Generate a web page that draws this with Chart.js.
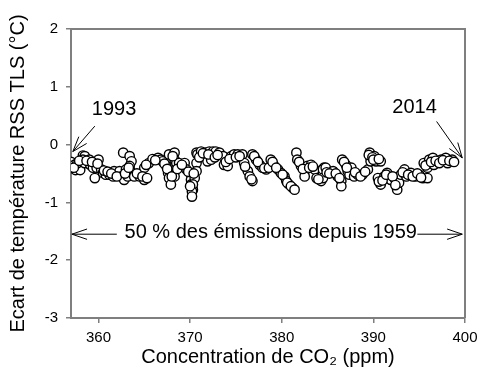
<!DOCTYPE html>
<html>
<head>
<meta charset="utf-8">
<script src="https://cdn.jsdelivr.net/npm/chart.js@4.4.0/dist/chart.umd.min.js"></script>
<style>
  html, body { margin: 0; padding: 0; background: #fff; }
  #wrap { width: 480px; height: 378px; }
</style>
</head>
<body>
<div id="wrap"><canvas id="graphe"></canvas></div>
<script>
// Concentration de CO2 (ppm) et écart de température RSS TLS (°C)
const co2 = [
  357.0, 357.4, 357.5, 358.0, 357.7, 358.3, 358.5, 358.3, 358.5, 359.0,
  359.1, 359.4, 359.6, 360.0, 359.8, 360.3, 360.5, 360.8, 361.2, 361.6,
  361.9, 361.7, 362.3, 362.5, 362.7, 362.8, 363.0, 363.4, 363.6, 363.4,
  363.5, 363.2, 363.9, 364.5, 365.0, 365.0, 365.5, 365.9, 366.5, 366.8,
  367.0, 367.4, 367.6, 367.7, 367.9, 367.7, 368.3, 368.3, 368.5, 368.3,
  368.8, 369.4, 369.6, 370.1, 370.1, 370.1, 370.3, 370.7,
  370.8, 371.2, 371.6, 371.7, 372.1, 372.5, 372.8, 373.2, 371.9, 372.3,
  370.7, 370.7, 370.5, 370.3, 370.2, 373.6, 373.7, 374.1, 374.5, 374.8,
  375.2, 375.7, 375.9, 376.3, 376.5, 376.8, 376.8, 377.2, 377.6, 377.9,
  378.3, 378.8, 379.2, 379.6, 379.9, 380.3, 380.5, 380.8, 381.2, 381.6,
  381.7, 382.1, 382.5, 382.5, 382.8, 383.2, 383.6, 383.8, 384.3, 384.5,
  384.6,
  384.5, 384.8, 384.5, 385.6, 386.1, 386.5, 386.5, 386.6, 387.0, 387.2,
  387.6, 387.4, 387.9, 388.3, 388.8, 389.4, 389.6, 389.7, 389.7, 390.1,
  390.3, 390.8, 390.5, 390.8, 391.2, 391.5, 391.9, 392.3, 392.6, 392.8,
  393.0, 393.4, 393.6, 394.1, 394.6, 395.0, 395.4, 395.9, 395.5, 395.9,
  396.1, 396.5, 396.6, 397.0, 397.4, 397.9, 398.1, 398.6,
  357.3, 357.9, 358.7, 359.3, 359.9, 360.6, 361.0, 361.4, 362.0, 362.9,
  363.3, 364.2, 364.8, 365.3, 365.2, 366.2, 367.2, 367.5, 368.0, 368.1,
  368.6, 369.1, 369.8, 370.0, 370.2, 370.4, 371.0, 371.4, 372.0, 372.7,
  373.0, 373.9, 374.3, 375.0, 375.4, 376.0, 376.7, 377.0, 377.4, 378.1,
  378.6, 379.0, 379.4, 380.1, 380.6, 381.0, 381.4, 381.9, 382.3, 383.0,
  383.4, 384.0, 384.9, 385.2, 385.9, 386.3, 386.8, 387.1, 388.0, 388.6,
  389.1, 389.5, 389.9, 390.0, 390.6, 390.6, 391.0, 391.4, 392.1, 392.4,
  393.2, 393.8, 394.3, 394.8, 395.2, 395.7, 396.3, 396.8, 397.2, 397.6,
  398.3, 398.8
];
const anomalie = [
  -0.30, -0.35, -0.44, -0.44, -0.32, -0.19, -0.20, -0.26, -0.32, -0.26,
  -0.35, -0.40, -0.58, -0.26, -0.40, -0.43, -0.49, -0.52, -0.52, -0.55,
  -0.52, -0.46, -0.46, -0.55, -0.14, -0.61, -0.43, -0.20, -0.29, -0.37,
  -0.46, -0.55, -0.55, -0.55, -0.61, -0.40, -0.32, -0.25, -0.23, -0.26,
  -0.29, -0.37, -0.49, -0.58, -0.69, -0.17, -0.14, -0.26, -0.32, -0.55,
  -0.32, -0.32, -0.43, -0.52, -0.61, -0.69, -0.78, -0.14,
  -0.17, -0.12, -0.20, -0.14, -0.12, -0.12, -0.12, -0.14, -0.29, -0.26,
  -0.32, -0.46, -0.58, -0.69, -0.81, -0.20, -0.35, -0.37, -0.20, -0.17,
  -0.17, -0.17, -0.32, -0.46, -0.55, -0.63, -0.17, -0.26, -0.35, -0.40,
  -0.43, -0.26, -0.37, -0.43, -0.49, -0.55, -0.63, -0.69, -0.75, -0.14,
  -0.26, -0.37, -0.46, -0.55, -0.37, -0.35, -0.43, -0.58, -0.63, -0.49,
  -0.40,
  -0.43, -0.40, -0.58, -0.46, -0.55, -0.63, -0.72, -0.26, -0.35, -0.46,
  -0.40, -0.52, -0.55, -0.52, -0.52, -0.43, -0.14, -0.23, -0.29, -0.20,
  -0.29, -0.29, -0.58, -0.69, -0.55, -0.49, -0.61, -0.58, -0.78, -0.66,
  -0.52, -0.43, -0.55, -0.49, -0.55, -0.52, -0.58, -0.58, -0.32, -0.40,
  -0.26, -0.23, -0.35, -0.29, -0.26, -0.23, -0.32, -0.26,
  -0.40, -0.28, -0.28, -0.30, -0.33, -0.45, -0.47, -0.50, -0.55, -0.50,
  -0.40, -0.50, -0.55, -0.58, -0.35, -0.27, -0.33, -0.42, -0.55, -0.20,
  -0.42, -0.35, -0.47, -0.72, -0.90, -0.50, -0.22, -0.15, -0.17, -0.22,
  -0.18, -0.30, -0.25, -0.22, -0.20, -0.38, -0.60, -0.20, -0.30, -0.41,
  -0.40, -0.30, -0.40, -0.52, -0.66, -0.72, -0.78, -0.30, -0.42, -0.40,
  -0.38, -0.60, -0.48, -0.50, -0.50, -0.58, -0.30, -0.40, -0.48, -0.55,
  -0.47, -0.18, -0.22, -0.26, -0.25, -0.64, -0.62, -0.52, -0.55, -0.70,
  -0.48, -0.52, -0.55, -0.50, -0.57, -0.36, -0.30, -0.28, -0.32, -0.27,
  -0.28, -0.30
];

const xTicks = [360, 370, 380, 390, 400];
const yTicks = [2, 1, 0, -1, -2, -3];

const points = co2.map((x, i) => ({ x: x, y: anomalie[i] }));

const POLICE = "'Liberation Sans', Arial, sans-serif";
const GRIS = '#7f7f7f';

/**
 * Dessine une flèche à pointe ouverte entre deux points (en pixels)
 */
function fleche(ctx, x1, y1, x2, y2) {
    const ang = Math.atan2(y2 - y1, x2 - x1);
    const long = 16, ouv = 0.33;
    ctx.beginPath();
    ctx.moveTo(x1, y1);
    ctx.lineTo(x2, y2);
    ctx.moveTo(x2 - long * Math.cos(ang - ouv), y2 - long * Math.sin(ang - ouv));
    ctx.lineTo(x2, y2);
    ctx.lineTo(x2 - long * Math.cos(ang + ouv), y2 - long * Math.sin(ang + ouv));
    ctx.stroke();
}

// Cadre du graphique et annotations
const annotations = {
    id: 'annotations',
    beforeDatasetsDraw(chart) {
        const { ctx, chartArea: a } = chart;
        ctx.save();
        ctx.strokeStyle = GRIS;
        ctx.lineWidth = 2;
        ctx.beginPath();
        ctx.moveTo(a.left, a.top);
        ctx.lineTo(a.right, a.top);
        ctx.lineTo(a.right, a.bottom);
        ctx.stroke();
        ctx.restore();
    },
    afterDatasetsDraw(chart) {
        const { ctx } = chart;
        const sx = chart.scales.x, sy = chart.scales.y;
        const px = v => sx.getPixelForValue(v);
        const py = v => sy.getPixelForValue(v);
        ctx.save();
        ctx.fillStyle = '#000';
        ctx.strokeStyle = '#000';
        ctx.lineWidth = 1;
        ctx.font = '20px ' + POLICE;
        ctx.textAlign = 'center';
        ctx.textBaseline = 'middle';

        ctx.fillText('1993', px(361.7), py(0.61));
        fleche(ctx, px(359.6), py(0.32), px(357.2), py(-0.12));

        ctx.fillText('2014', px(394.5), py(0.65));
        fleche(ctx, px(396.9), py(0.40), px(399.7), py(-0.23));

        ctx.fillText('50 % des émissions depuis 1959', px(378.8), py(-1.52));
        fleche(ctx, px(362.0), py(-1.55), px(357.1), py(-1.55));
        fleche(ctx, px(394.8), py(-1.55), px(399.7), py(-1.55));
        ctx.restore();
    }
};

new Chart(document.getElementById('graphe'), {
    type: 'scatter',
    data: {
        datasets: [
            {
                data: points,
                pointRadius: 4.7,
                pointBorderWidth: 1.4,
                pointBackgroundColor: '#fff',
                pointBorderColor: '#000'
            }
        ]
    },
    options: {
        responsive: true,
        maintainAspectRatio: false,
        animation: false,
        layout: { padding: { top: 29, right: 15, left: 0, bottom: 0 } },
        plugins: {
            legend: { display: false },
            tooltip: { enabled: false }
        },
        scales: {
            x: {
                type: 'linear',
                min: 357,
                max: 400,
                afterBuildTicks: s => { s.ticks = xTicks.map(v => ({ value: v })); },
                afterFit: s => { s.height = 60; s.paddingRight = 0; s.paddingLeft = 0; },
                border: { color: GRIS, width: 2 },
                grid: { drawOnChartArea: false, drawTicks: true, tickLength: 5, color: GRIS, lineWidth: 1.5 },
                ticks: { color: '#000', font: { family: POLICE, size: 15 }, padding: 6, maxRotation: 0 },
                title: {
                    display: true,
                    text: 'Concentration de CO₂ (ppm)',
                    color: '#000',
                    font: { family: POLICE, size: 20 },
                    padding: { top: 0, bottom: 9 }
                }
            },
            y: {
                min: -3,
                max: 2,
                afterBuildTicks: s => { s.ticks = yTicks.map(v => ({ value: v })); },
                afterFit: s => { s.width = 71; s.paddingTop = 0; s.paddingBottom = 0; },
                border: { color: GRIS, width: 2 },
                grid: { drawOnChartArea: false, drawTicks: true, tickLength: 5, color: GRIS, lineWidth: 1.5 },
                ticks: { color: '#000', font: { family: POLICE, size: 15 }, padding: 8 },
                title: {
                    display: true,
                    text: 'Ecart de température RSS TLS (°C)',
                    color: '#000',
                    font: { family: POLICE, size: 20 },
                    padding: { top: 6, bottom: 0 }
                }
            }
        }
    },
    plugins: [annotations]
});
</script>
</body>
</html>
